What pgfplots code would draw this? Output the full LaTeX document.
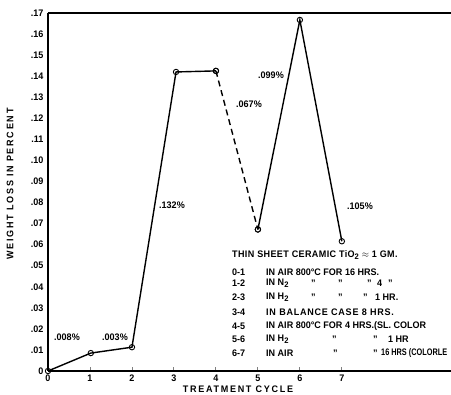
\documentclass[border=0pt]{standalone}
\usepackage{pgfplots}
\pgfplotsset{compat=1.18}
\usepackage{graphicx}
\usepackage{fontspec}
\setmainfont{Liberation Sans}[FakeStretch=0.95]
\newcommand{\sub}[1]{\raisebox{-0.45ex}{\footnotesize #1}}
\begin{document}
\begin{tikzpicture}[x=1pt,y=1pt]
\useasboundingbox (-48,-24) rectangle (403,371);
\begin{axis}[
  at={(0,0)}, anchor=south west, scale only axis,
  width=403pt, height=358pt,
  xmin=0, xmax=9.6, ymin=0, ymax=0.17,
  axis x line*=bottom, axis y line*=left,
  axis line style={line width=1.1pt},
  xtick={0,1,2,3,4,5,6,7},
  xticklabels={0,1,2,3,4,5,6,7},
  ytick={0,0.01,0.02,0.03,0.04,0.05,0.06,0.07,0.08,0.09,0.10,0.11,0.12,0.13,0.14,0.15,0.16,0.17},
  yticklabels={0,.01,.02,.03,.04,.05,.06,.07,.08,.09,.10,.11,.12,.13,.14,.15,.16,.17},
  tick align=inside, major tick length=4pt,
  xtick style={line width=0.9pt},
  ytick style={draw=none},
  ticklabel style={font=\fontsize{9.5}{11}\selectfont\bfseries},
  yticklabel style={xshift=-1pt},
  clip=false,
]
\draw[line width=1.1pt] (axis cs:0,0.17) -- (axis cs:9.6,0.17);
\addplot[black, line width=1.4pt, mark=o, mark size=2.7pt, mark options={fill=white, line width=0.9pt}]
  coordinates {(0,0) (1.02,0.0085) (2.0,0.0113) (3.05,0.1420) (4.0,0.1425)};
\addplot[black, line width=1.4pt, dashed, dash pattern=on 6pt off 4pt]
  coordinates {(4.0,0.1425) (5.0,0.0672)};
\addplot[black, line width=1.4pt, mark=o, mark size=2.7pt, mark options={fill=white, line width=0.9pt, solid}]
  coordinates {(5.0,0.0672) (6.0,0.1667) (7.0,0.0616)};
\addplot[only marks, black, mark=o, mark size=2.7pt, mark options={fill=white, line width=0.9pt}]
  coordinates {(4.0,0.1425) (5.0,0.0672)};
\end{axis}
\begin{scope}[every node/.style={font=\fontsize{9.5}{11}\selectfont\bfseries, inner sep=0pt}]
\node at (19,34) {.008\%};
\node at (67,34) {.003\%};
\node at (124,166) {.132\%};
\node at (201,267) {.067\%};
\node at (223,296) {.099\%};
\node at (312,165) {.105\%};
\node[rotate=90] at (-38,187) {\addfontfeature{LetterSpace=18}WEIGHT LOSS IN PERCENT};
\node at (190,-18) {\addfontfeature{LetterSpace=18}TREATMENT CYCLE};
\node[anchor=west] at (184,116) {\addfontfeature{LetterSpace=4}THIN SHEET CERAMIC TiO\sub{2} $\approx$ 1 GM.};
\node[anchor=west] at (184,99) {0-1};
\node[anchor=west] at (218,99) {IN AIR 800\textdegree C FOR 16 HRS.};
\node[anchor=west] at (184,88) {1-2};
\node[anchor=west] at (218,88) {IN N\sub{2}};
\node[anchor=west] at (263,88) {"};
\node[anchor=west] at (290,88) {"};
\node[anchor=west] at (319,88) {"};
\node[anchor=west] at (329,88) {4};
\node[anchor=west] at (340,88) {"};
\node[anchor=west] at (184,74) {2-3};
\node[anchor=west] at (218,74) {IN H\sub{2}};
\node[anchor=west] at (263,74) {"};
\node[anchor=west] at (290,74) {"};
\node[anchor=west] at (315,74) {"};
\node[anchor=west] at (327,74) {1 HR.};
\node[anchor=west] at (184,59) {3-4};
\node[anchor=west] at (218,59) {\addfontfeature{LetterSpace=8}IN BALANCE CASE 8 HRS.};
\node[anchor=west] at (184,45) {4-5};
\node[anchor=west] at (218,45) {IN AIR 800\textdegree C FOR 4 HRS.(SL. COLOR};
\node[anchor=west] at (184,32) {5-6};
\node[anchor=west] at (218,32) {IN H\sub{2}};
\node[anchor=west] at (284,32) {"};
\node[anchor=west] at (325,32) {"};
\node[anchor=west] at (340,32) {1 HR};
\node[anchor=west] at (184,18) {6-7};
\node[anchor=west] at (218,18) {IN AIR};
\node[anchor=west] at (285,18) {"};
\node[anchor=west] at (325,18) {"};
\node[anchor=west] at (333,18) {\resizebox{66pt}{\height}{16 HRS (COLORLE}};
\end{scope}
\end{tikzpicture}
\end{document}
